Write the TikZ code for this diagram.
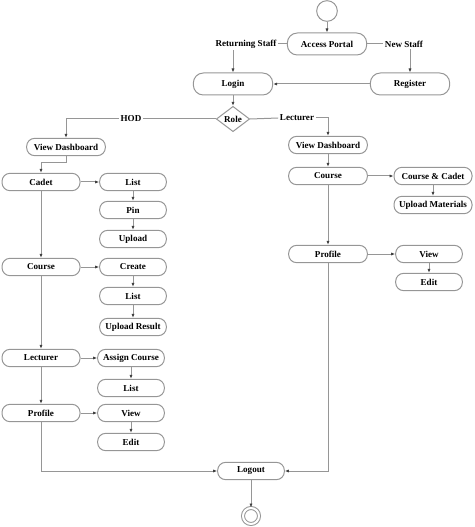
\documentclass[tikz,border=0pt]{standalone}
\usepackage{fontspec}
\setmainfont{Liberation Serif}
\usetikzlibrary{arrows.meta,shapes.geometric}
\definecolor{lineg}{RGB}{150,150,150}
\tikzset{every picture/.style={line width=0.75pt}}
\tikzset{
  act/.style={draw=lineg,rounded corners=6pt,inner sep=0pt,minimum width=58.5pt,minimum height=13pt,font=\bfseries\fontsize{6.8}{8}\selectfont},
  sub/.style={act,minimum width=50pt},
  bigact/.style={act,minimum width=59.5pt,minimum height=16.5pt,rounded corners=7.5pt},
  lbl/.style={inner sep=1pt,font=\bfseries\fontsize{6.8}{8}\selectfont},
  flow/.style={draw=lineg,-{Latex[length=3pt,width=2.4pt,color=black!75]}},
  link/.style={draw=lineg}
}
\begin{document}
\begin{tikzpicture}[x=0.75pt,y=0.75pt,yscale=-1,xscale=1]
\useasboundingbox (0,0) rectangle (474,527);

% Start / end
\node (start) [draw=lineg,circle,minimum size=15.5pt,inner sep=0pt] at (327,11) {};
\node (finish) [draw=lineg,circle,double=white,double distance=1.5pt,minimum size=12pt,inner sep=0pt] at (251,516) {};

% Entry
\node (portal) [bigact] at (327,44) {Access Portal};
\node (rs) [lbl] at (246,44) {Returning Staff};
\node (ns) [lbl] at (404,44) {New Staff};
\node (login) [bigact] at (233,84) {Login};
\node (register) [bigact] at (410,84) {Register};
\node (role) [draw=lineg,diamond,aspect=1.3,inner sep=0.5pt,minimum width=25pt,minimum height=19pt,font=\bfseries\fontsize{6.8}{8}\selectfont] at (233,119) {Role};
\node (hod) [lbl] at (131,119) {HOD};
\node (lec) [lbl] at (297,118) {Lecturer};

% HOD column
\node (vdL) [act,minimum width=59pt] at (66,147) {View Dashboard};
\node (cadet) [act] at (41,182) {Cadet};
\node (listA) [sub] at (133,182) {List};
\node (pin) [sub] at (133,210) {Pin};
\node (upload) [sub] at (133,239) {Upload};
\node (courseL) [act] at (41,267) {Course};
\node (create) [sub] at (133,267) {Create};
\node (listB) [sub] at (133,296) {List};
\node (uresult) [sub] at (133,327) {Upload Result};
\node (lecturer) [act] at (41,358) {Lecturer};
\node (assign) [sub] at (131,358) {Assign Course};
\node (listC) [sub] at (131,388) {List};
\node (profileL) [act] at (41,413) {Profile};
\node (viewL) [sub] at (131,413) {View};
\node (editL) [sub] at (131,442) {Edit};

% Lecturer column
\node (vdR) [act,minimum width=59pt] at (328,145) {View Dashboard};
\node (courseR) [act,minimum width=59pt] at (328,176) {Course};
\node (cc) [act] at (433,176) {Course \& Cadet};
\node (umat) [act] at (433,205) {Upload Materials};
\node (profileR) [act,minimum width=59pt] at (328,254) {Profile};
\node (viewR) [sub] at (429,254) {View};
\node (editR) [sub] at (429,282) {Edit};

\node (logout) [sub] at (251,471) {Logout};

% Connectors
\draw [flow] (start) -- (portal);
\draw [link] (portal.west) -- (rs.east);
\draw [link] (portal.east) -- (ns.west);
\draw [flow] (rs.south -| login.north) -- (login.north);
\draw [flow] (ns.south -| register.north) -- (register.north);
\draw [flow] (register) -- (login);
\draw [flow] (login) -- (role);
\draw [link] (role.west) -- (hod.east);
\draw [flow] (hod.west) -| (vdL.north);
\draw [link] (role.east) -- (lec.west);
\draw [flow] (lec.east) -| (vdR.north);

\draw [flow] (vdL.south) -- ++(0,6) -| (cadet.north);
\draw [flow] (cadet) -- (listA);
\draw [flow] (listA) -- (pin);
\draw [flow] (pin) -- (upload);
\draw [flow] (cadet) -- (courseL);
\draw [flow] (courseL) -- (create);
\draw [flow] (create) -- (listB);
\draw [flow] (listB) -- (uresult);
\draw [flow] (courseL) -- (lecturer);
\draw [flow] (lecturer) -- (assign);
\draw [flow] (assign) -- (listC);
\draw [flow] (lecturer) -- (profileL);
\draw [flow] (profileL) -- (viewL);
\draw [flow] (viewL) -- (editL);
\draw [flow] (profileL.south) |- (logout.west);

\draw [flow] (vdR) -- (courseR);
\draw [flow] (courseR) -- (cc);
\draw [flow] (cc) -- (umat);
\draw [flow] (courseR) -- (profileR);
\draw [flow] (profileR) -- (viewR);
\draw [flow] (viewR) -- (editR);
\draw [flow] (profileR.south) |- (logout.east);

\draw [flow] (logout) -- (finish);

\end{tikzpicture}
\end{document}
